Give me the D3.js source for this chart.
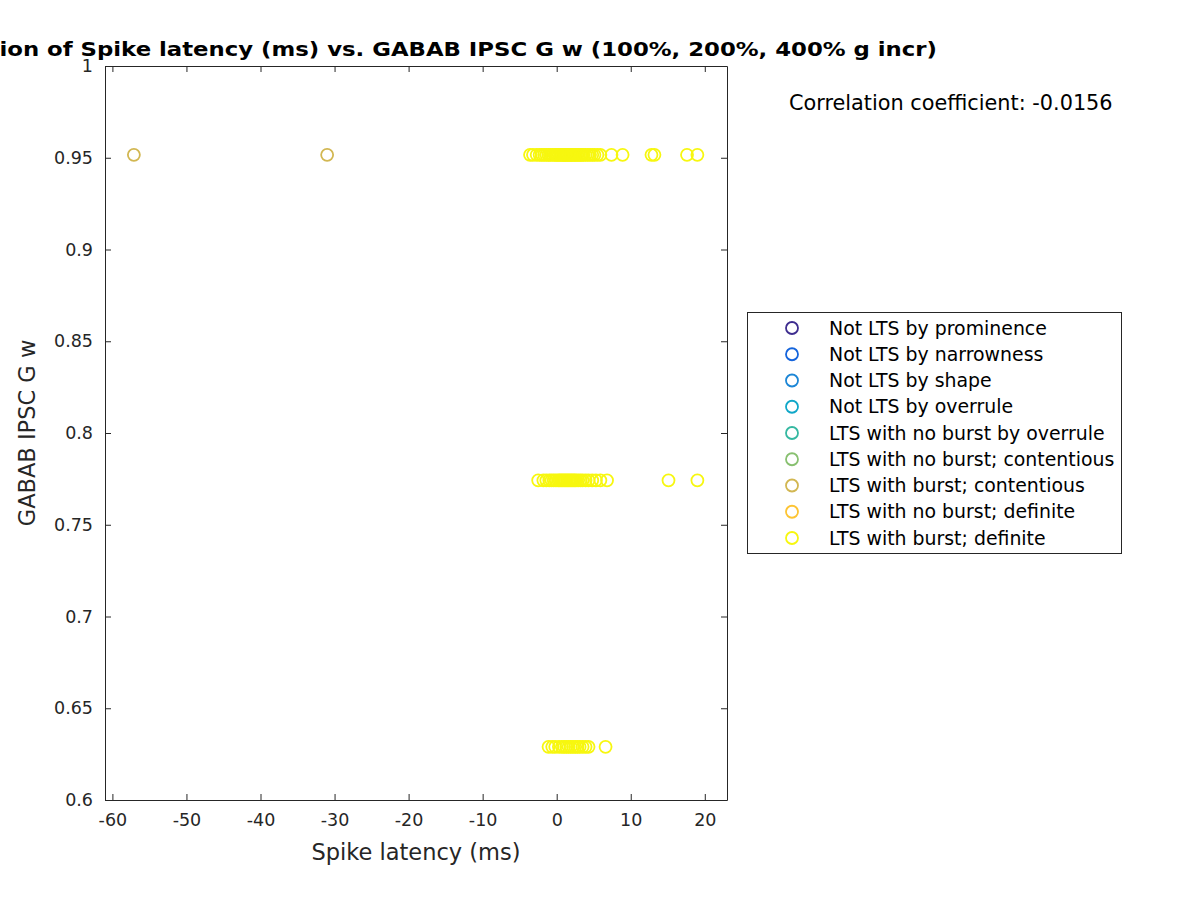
<!DOCTYPE html>
<html lang="en">
<head>
<meta charset="UTF-8">
<title>Spike latency vs GABAB IPSC G w</title>
<style>
  body { margin: 0; background: #fff; }
  svg { display: block; font-family: "DejaVu Sans", sans-serif; }
  .tick line { stroke: #262626; }
  .domain { stroke: #262626; }
</style>
</head>
<body>
<svg width="1200" height="900"></svg>
<script src="https://cdn.jsdelivr.net/npm/d3@7"></script>
<script>
// legend categories and their colours (parula-like)
const categories = [
  "Not LTS by prominence",
  "Not LTS by narrowness",
  "Not LTS by shape",
  "Not LTS by overrule",
  "LTS with no burst by overrule",
  "LTS with no burst; contentious",
  "LTS with burst; contentious",
  "LTS with no burst; definite",
  "LTS with burst; definite"
];
const catColors = ["#3e2d8f", "#1464dc", "#1c86d6", "#10a7c8", "#35b8a1", "#88c070", "#d2b752", "#fdc433", "#f7f70f"];

// G w levels (one row per g increase)
const gLevels = [0.9516, 0.7742, 0.6290];

// spike latencies (ms)
const burstContentious100 = [-57.1, -31.0];
const burstDefinite100 = [-3.6, -3.2, -2.7, -2.3, -2.0, -1.7, -1.4, -1.1, -0.9, -0.6, -0.3, -0.1, 0.1, 0.3, 0.5,
  0.7, 0.9, 1.0, 1.2, 1.4, 1.5, 1.7, 1.9, 2.0, 2.2, 2.4, 2.6, 2.8, 3.0, 3.2, 3.4, 3.6, 3.9, 4.2, 4.5, 4.8,
  5.1, 5.5, 5.9, 7.4, 8.9, 12.8, 13.2, 17.6, 19.0];
const burstDefinite200 = [-2.5, -1.8, -1.4, -1.0, -0.7, -0.4, -0.1, 0.2, 0.4, 0.6, 0.8, 1.0, 1.2, 1.4, 1.6, 1.8,
  2.0, 2.2, 2.4, 2.6, 2.9, 3.2, 3.5, 3.9, 4.3, 4.8, 5.3, 5.9, 6.8, 15.1, 19.0];
const burstDefinite400 = [-1.1, -0.6, -0.2, 0.3, 0.7, 1.0, 1.3, 1.6, 1.9, 2.2, 2.5, 2.8, 3.1, 3.5, 3.9, 4.3, 6.6];

const xTicks = [-60, -50, -40, -30, -20, -10, 0, 10, 20];
const yTicks = [0.6, 0.65, 0.7, 0.75, 0.8, 0.85, 0.9, 0.95, 1];

const points = [];
burstContentious100.forEach(v => points.push({ x: v, y: gLevels[0], c: 6 }));
burstDefinite100.forEach(v => points.push({ x: v, y: gLevels[0], c: 8 }));
burstDefinite200.forEach(v => points.push({ x: v, y: gLevels[1], c: 8 }));
burstDefinite400.forEach(v => points.push({ x: v, y: gLevels[2], c: 8 }));

const svg = d3.select("svg");
const mLeft = 105, mRight = 727, mTop = 66, mBottom = 800;

const x = d3.scaleLinear().domain([-61, 23]).range([mLeft, mRight]);
const y = d3.scaleLinear().domain([0.6, 1]).range([mBottom, mTop]);

const fmtX = d => String(d);
const fmtY = d => (d === 1 ? "1" : String(d));

function styleAxis(g) {
  g.attr("font-size", 17.5).attr("font-family", "DejaVu Sans, sans-serif");
  g.selectAll(".tick text").attr("fill", "#262626");
  g.selectAll(".tick line").attr("stroke", "#262626");
  g.select(".domain").attr("stroke", "#262626");
}

// axes, ticks pointing inward like MATLAB
svg.append("g").attr("transform", `translate(0,${mBottom})`)
  .call(d3.axisBottom(x).tickValues(xTicks).tickSizeInner(-6).tickSizeOuter(0).tickPadding(14).tickFormat(fmtX))
  .call(styleAxis);
svg.append("g").attr("transform", `translate(0,${mTop})`)
  .call(d3.axisTop(x).tickValues(xTicks).tickSizeInner(-6).tickSizeOuter(0).tickFormat(""))
  .call(styleAxis);
svg.append("g").attr("transform", `translate(${mLeft},0)`)
  .call(d3.axisLeft(y).tickValues(yTicks).tickSizeInner(-6).tickSizeOuter(0).tickPadding(12).tickFormat(fmtY))
  .call(styleAxis);
svg.append("g").attr("transform", `translate(${mRight},0)`)
  .call(d3.axisRight(y).tickValues(yTicks).tickSizeInner(-6).tickSizeOuter(0).tickFormat(""))
  .call(styleAxis);

// points
svg.append("g").selectAll("circle")
  .data(points)
  .join("circle")
  .attr("cx", d => x(d.x))
  .attr("cy", d => y(d.y))
  .attr("r", 6)
  .attr("fill", "none")
  .attr("stroke", d => catColors[d.c])
  .attr("stroke-width", 1.8);

// labels
svg.append("text")
  .attr("x", (mLeft + mRight) / 2).attr("y", 860)
  .attr("text-anchor", "middle").attr("font-size", 22.5).attr("fill", "#262626")
  .text("Spike latency (ms)");

svg.append("text")
  .attr("transform", `translate(35,${(mTop + mBottom) / 2}) rotate(-90)`)
  .attr("text-anchor", "middle").attr("font-size", 22.5).attr("fill", "#262626")
  .text("GABAB IPSC G w");

svg.append("text")
  .attr("x", (mLeft + mRight) / 2).attr("y", 56)
  .attr("text-anchor", "middle").attr("font-size", 20).attr("font-weight", "bold").attr("fill", "#000")
  .attr("textLength", 1042).attr("lengthAdjust", "spacingAndGlyphs")
  .text("Correlation of Spike latency (ms) vs. GABAB IPSC G w (100%, 200%, 400% g incr)");

svg.append("text")
  .attr("x", 789).attr("y", 110)
  .attr("font-size", 20.8).attr("fill", "#000")
  .text("Correlation coefficient: -0.0156");

// legend
const lg = svg.append("g");
lg.append("rect")
  .attr("x", 747.5).attr("y", 312.5).attr("width", 374).attr("height", 241)
  .attr("fill", "#fff").attr("stroke", "#262626").attr("stroke-width", 1);

const ly = d3.scalePoint().domain(categories).range([328, 538]);
const items = lg.selectAll("g.item").data(categories).join("g").attr("class", "item");
items.append("circle")
  .attr("cx", 792).attr("cy", d => ly(d)).attr("r", 6)
  .attr("fill", "none").attr("stroke", (d, i) => catColors[i]).attr("stroke-width", 1.8);
items.append("text")
  .attr("x", 829).attr("y", d => ly(d)).attr("dy", "0.35em")
  .attr("font-size", 18.9).attr("fill", "#000")
  .text(d => d);
</script>
</body>
</html>
